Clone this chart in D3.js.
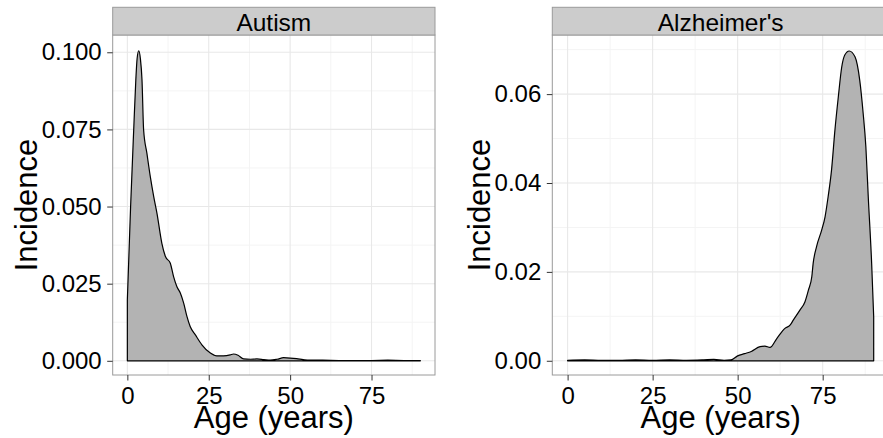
<!DOCTYPE html>
<html lang="en">
<head>
<meta charset="UTF-8">
<title>Incidence by age</title>
<style>
  * { margin: 0; padding: 0; }
  body { background: #fff; }
  svg { display: block; font-family: "Liberation Sans", Arial, Helvetica, sans-serif; }
  .tick text { fill: #000; }
  .tick line { stroke: #333; }
</style>
<script src="https://cdn.jsdelivr.net/npm/d3@7"></script>
</head>
<body>
<div id="chart"></div>
<script>
// autism density
var autismAge = [0, 1, 1.95, 2.6, 3.0, 3.5, 4.0, 4.5, 5.0, 6.0, 7.05, 8.1, 9.1, 10.6, 11.7, 13.2,
                 14.2, 15.2, 16.3, 17.3, 18.3, 19.3, 20.9, 22.9, 25.5, 27.5, 29.5, 31.6, 32.6, 34.0,
                 35.7, 37.8, 39.8, 41.9, 43.9, 46, 48, 50, 52, 54, 56, 60, 65, 70, 75, 80, 85, 90];
var autismVal = [0.0198, 0.050, 0.0748, 0.091, 0.098, 0.1005, 0.098, 0.091, 0.0748, 0.0673, 0.0597, 0.0532,
                 0.0478, 0.0381, 0.0338, 0.0316, 0.0273, 0.0241, 0.0219, 0.0187, 0.0144, 0.0111, 0.0084,
                 0.0052, 0.0025, 0.0016, 0.0016, 0.0019, 0.0022, 0.0018, 0.0006, 0.0005, 0.0006, 0.0004,
                 0.0002, 0.0005, 0.0010, 0.0009, 0.0007, 0.0004, 0.0002, 0.0002, 0.0001, 0.0001, 0.0001,
                 0.0002, 0.0001, 0.0001];

// alzheimer's density
var alzAge = [0, 5, 10, 15, 20, 25, 30, 35, 40, 43, 46, 48, 50, 52, 54, 56.6, 58, 59.5, 61.5, 63.9,
              65.4, 66.4, 68.3, 69.8, 70.8, 71.8, 72.2, 73.2, 74.7, 75.7, 76.6, 77.6, 78.6, 79.6, 80.6,
              81.5, 82.8, 84.5, 85.9, 86.9, 87.7, 88.4, 89.4, 90];
var alzVal = [0.0001, 0.0002, 0.0001, 0.0001, 0.0002, 0.0001, 0.0002, 0.0001, 0.0002, 0.0003, 0.0001,
              0.0002, 0.0011, 0.0016, 0.0021, 0.0032, 0.0033, 0.0030, 0.0050, 0.0073, 0.0080, 0.0092,
              0.0114, 0.0133, 0.0159, 0.0189, 0.0219, 0.0257, 0.0294, 0.0324, 0.0369, 0.0429, 0.0519,
              0.0594, 0.0661, 0.0688, 0.0697, 0.0684, 0.0631, 0.0557, 0.0481, 0.0369, 0.0219, 0.0099];

var xTicks = [0, 25, 50, 75];
var xMinor = [12.5, 37.5, 62.5, 87.5];
var autismYTicks = [0, 0.025, 0.05, 0.075, 0.1];
var autismYMinor = [0.0125, 0.0375, 0.0625, 0.0875];
var alzYTicks = [0, 0.02, 0.04, 0.06];
var alzYMinor = [0.01, 0.03, 0.05, 0.07];

var w = 883, h = 438;
var svg = d3.select('#chart').append('svg')
    .attr('width', w).attr('height', h);

var panels = [
    { title: 'Autism', age: autismAge, val: autismVal, yTicks: autismYTicks, yMinor: autismYMinor,
      yFmt: d3.format('.3f'), yDomain: [-0.0046, 0.1056], left: 112.7, right: 435, ytitle: 36.5 },
    { title: "Alzheimer's", age: alzAge, val: alzVal, yTicks: alzYTicks, yMinor: alzYMinor,
      yFmt: d3.format('.2f'), yDomain: [-0.0032, 0.0733], left: 552.3, right: 889, ytitle: 490 }
];

var panelTop = 35, panelBottom = 375, stripTop = 7.3;

panels.forEach(function (p) {
    var x = d3.scaleLinear().domain([-4.5, 94.5]).range([p.left, p.right]);
    var y = d3.scaleLinear().domain(p.yDomain).range([panelBottom, panelTop]);
    var g = svg.append('g');

    // panel background + grid
    g.append('rect').attr('x', p.left).attr('y', panelTop)
        .attr('width', p.right - p.left).attr('height', panelBottom - panelTop).attr('fill', '#fff');

    g.selectAll('.xminor').data(xMinor).enter().append('line')
        .attr('x1', d => x(d)).attr('x2', d => x(d)).attr('y1', panelTop).attr('y2', panelBottom)
        .attr('stroke', '#f4f4f4').attr('stroke-width', 1);
    g.selectAll('.yminor').data(p.yMinor).enter().append('line')
        .attr('y1', d => y(d)).attr('y2', d => y(d)).attr('x1', p.left).attr('x2', p.right)
        .attr('stroke', '#f4f4f4').attr('stroke-width', 1);
    g.selectAll('.xmajor').data(xTicks).enter().append('line')
        .attr('x1', d => x(d)).attr('x2', d => x(d)).attr('y1', panelTop).attr('y2', panelBottom)
        .attr('stroke', '#e8e8e8').attr('stroke-width', 1.1);
    g.selectAll('.ymajor').data(p.yTicks).enter().append('line')
        .attr('y1', d => y(d)).attr('y2', d => y(d)).attr('x1', p.left).attr('x2', p.right)
        .attr('stroke', '#e8e8e8').attr('stroke-width', 1.1);

    // density
    var pts = p.age.map((a, i) => [a, p.val[i]]);
    var area = d3.area()
        .x(d => x(d[0]))
        .y0(y(0))
        .y1(d => y(d[1]))
        .curve(d3.curveMonotoneX);
    g.append('path').datum(pts)
        .attr('d', area)
        .attr('fill', '#b3b3b3')
        .attr('stroke', '#000')
        .attr('stroke-width', 1.2)
        .attr('stroke-linejoin', 'round');

    // border
    g.append('rect').attr('x', p.left).attr('y', panelTop)
        .attr('width', p.right - p.left).attr('height', panelBottom - panelTop)
        .attr('fill', 'none').attr('stroke', '#9a9a9a').attr('stroke-width', 1);

    // strip
    g.append('rect').attr('x', p.left).attr('y', stripTop)
        .attr('width', p.right - p.left).attr('height', panelTop - stripTop)
        .attr('fill', '#cccccc').attr('stroke', '#9a9a9a').attr('stroke-width', 1);
    g.append('text')
        .attr('x', (p.left + p.right) / 2).attr('y', 31)
        .attr('text-anchor', 'middle')
        .style('font-size', '24.5px')
        .text(p.title);

    // axes
    var yAxis = d3.axisLeft(y).tickValues(p.yTicks).tickFormat(p.yFmt)
        .tickSize(5.5).tickPadding(5.5);
    g.append('g').attr('transform', 'translate(' + p.left + ',0)')
        .call(yAxis)
        .call(a => a.select('.domain').remove())
        .selectAll('text').style('font-size', '24px');

    var xAxis = d3.axisBottom(x).tickValues(xTicks).tickFormat(d3.format('d'))
        .tickSize(5.5).tickPadding(6);
    g.append('g').attr('transform', 'translate(0,' + panelBottom + ')')
        .call(xAxis)
        .call(a => a.select('.domain').remove())
        .selectAll('text').style('font-size', '24px');

    // titles
    g.append('text')
        .attr('x', (p.left + p.right) / 2).attr('y', 428)
        .attr('text-anchor', 'middle')
        .style('font-size', '31px')
        .text('Age (years)');
    g.append('text')
        .attr('transform', 'translate(' + p.ytitle + ',' + (panelTop + panelBottom) / 2 + ') rotate(-90)')
        .attr('text-anchor', 'middle')
        .style('font-size', '31px')
        .text('Incidence');
});
</script>
</body>
</html>
